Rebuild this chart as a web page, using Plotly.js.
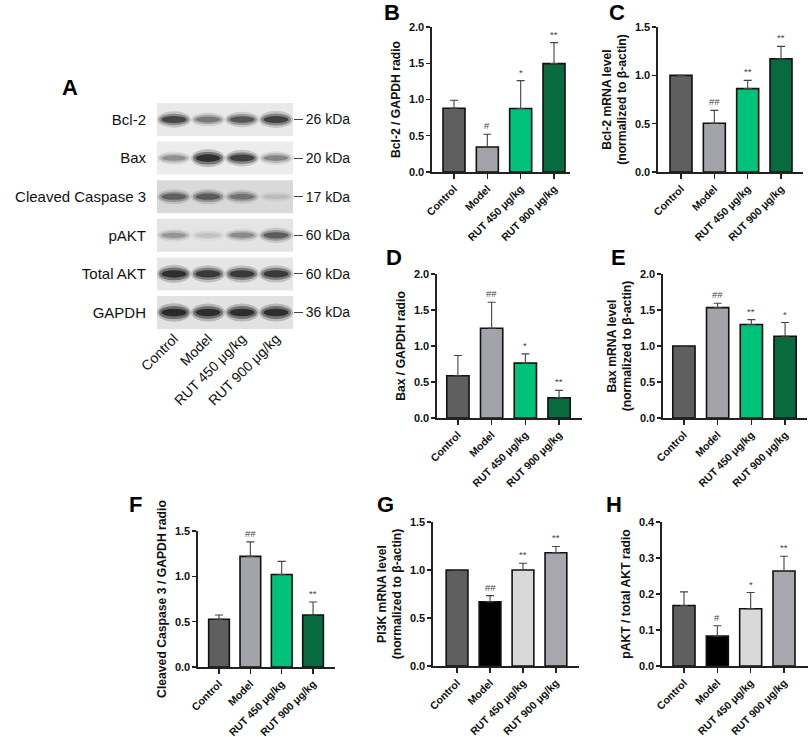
<!DOCTYPE html>
<html><head><meta charset="utf-8">
<script src="https://cdn.plot.ly/plotly-3.0.1.min.js"></script>
<style>html,body{margin:0;padding:0;background:#fff}#chart{width:809px;height:737px}</style>
</head><body><div id="chart"></div>
<script>
// ---------- data ----------
const groups = ["Control", "Model", "RUT 450 μg/kg", "RUT 900 μg/kg"];

// Western blot (panel A)
const proteins = ["Bcl-2", "Bax", "Cleaved Caspase 3", "pAKT", "Total AKT", "GAPDH"];
const kdaLabels = ["26 kDa", "20 kDa", "17 kDa", "60 kDa", "60 kDa", "36 kDa"];
const bandBcl2 = [0.75, 0.45, 0.65, 0.8];
const bandBax = [0.35, 0.95, 0.8, 0.4];
const bandCasp3 = [0.55, 0.6, 0.45, 0.1];
const bandPakt = [0.3, 0.12, 0.35, 0.6];
const bandTotalAkt = [0.95, 0.85, 0.85, 0.85];
const bandGapdh = [1.0, 0.95, 0.95, 0.95];
const membraneShade = ["#e9e9e9", "#ececec", "#d9d9d9", "#e4e4e4", "#e6e6e6", "#e2e2e2"];

// B: Bcl-2 / GAPDH
const bcl2WbMean = [0.88, 0.345, 0.875, 1.495];
const bcl2WbSd = [0.11, 0.175, 0.385, 0.29];
const bcl2WbSig = ["", "#", "*", "**"];
// C: Bcl-2 mRNA
const bcl2MrnaMean = [1.0, 0.505, 0.862, 1.172];
const bcl2MrnaSd = [null, 0.133, 0.086, 0.128];
const bcl2MrnaSig = ["", "##", "**", "**"];
// D: Bax / GAPDH
const baxWbMean = [0.587, 1.247, 0.762, 0.282];
const baxWbSd = [0.281, 0.36, 0.129, 0.101];
const baxWbSig = ["", "##", "*", "**"];
// E: Bax mRNA
const baxMrnaMean = [1.0, 1.533, 1.298, 1.136];
const baxMrnaSd = [null, 0.061, 0.069, 0.19];
const baxMrnaSig = ["", "##", "**", "*"];
// F: Cleaved Caspase 3 / GAPDH
const casp3Mean = [0.526, 1.22, 1.02, 0.574];
const casp3Sd = [0.047, 0.16, 0.145, 0.143];
const casp3Sig = ["", "##", "", "**"];
// G: PI3K mRNA
const pi3kMean = [1.0, 0.67, 1.0, 1.18];
const pi3kSd = [null, 0.063, 0.07, 0.065];
const pi3kSig = ["", "##", "**", "**"];
// H: pAKT / total AKT
const paktMean = [0.168, 0.083, 0.159, 0.264];
const paktSd = [0.038, 0.029, 0.045, 0.041];
const paktSig = ["", "#", "*", "**"];

// ---------- styles ----------
const FONT = "Liberation Sans, Arial, Helvetica, sans-serif";
const W = 809, H = 737;
const greenColors = ["#5f5f5f", "#a3a3aa", "#00c27a", "#076b3f"];
const grayColors = ["#5f5f5f", "#000000", "#d9d9d9", "#a7a7ad"];
const px = v => v / W;
const py = v => 1 - v / H;

const panels = [
  {mean: bcl2WbMean, sd: bcl2WbSd, sig: bcl2WbSig, colors: greenColors, title: "Bcl-2 / GAPDH radio",
   box: [432, 570, 27, 172], xr: [-0.66, 3.48], yr: [0, 2.0], dt: 0.5},
  {mean: bcl2MrnaMean, sd: bcl2MrnaSd, sig: bcl2MrnaSig, colors: greenColors, title: "Bcl-2 mRNA level<br>(normalized to β-actin)",
   box: [658, 803, 27, 172], xr: [-0.69, 3.66], yr: [0, 1.5], dt: 0.5},
  {mean: baxWbMean, sd: baxWbSd, sig: baxWbSig, colors: greenColors, title: "Bax / GAPDH radio",
   box: [437, 582, 274, 418], xr: [-0.62, 3.68], yr: [0, 2.0], dt: 0.5},
  {mean: baxMrnaMean, sd: baxMrnaSd, sig: baxMrnaSig, colors: greenColors, title: "Bax mRNA level<br>(normalized to β-actin)",
   box: [663, 807, 274, 418], xr: [-0.62, 3.65], yr: [0, 2.0], dt: 0.5},
  {mean: casp3Mean, sd: casp3Sd, sig: casp3Sig, colors: greenColors, title: "Cleaved Caspase 3 / GAPDH radio",
   box: [198, 335, 531, 667], xr: [-0.67, 3.7], yr: [0, 1.5], dt: 0.5},
  {mean: pi3kMean, sd: pi3kSd, sig: pi3kSig, colors: grayColors, title: "PI3K mRNA level<br>(normalized to β-actin)",
   box: [433, 579, 522, 666], xr: [-0.73, 3.7], yr: [0, 1.5], dt: 0.5},
  {mean: paktMean, sd: paktSd, sig: paktSig, colors: grayColors, title: "pAKT / total AKT radio",
   box: [662, 808, 522, 666], xr: [-0.66, 3.72], yr: [0, 0.4], dt: 0.1}
];

const data = [];
const layout = {
  width: W, height: H, margin: {l: 0, r: 0, t: 0, b: 0},
  paper_bgcolor: "#ffffff", plot_bgcolor: "rgba(0,0,0,0)",
  showlegend: false, font: {family: FONT, color: "#111"},
  annotations: [], shapes: []
};

const lanes = groups.map((g, i) => i);

panels.forEach((p, k) => {
  const n = k + 1;
  const xa = n === 1 ? "x" : "x" + n;
  const ya = n === 1 ? "y" : "y" + n;
  data.push({
    type: "bar", x: lanes, y: p.mean, xaxis: xa, yaxis: ya, width: 0.66,
    marker: {color: p.colors, line: {color: "#111", width: 1.6}},
    error_y: {type: "data", symmetric: false, array: p.sd, arrayminus: p.sd.map(() => 0),
              color: "#444", thickness: 1.1, width: 4},
    hoverinfo: "skip"
  });
  const ticks = [];
  for (let v = p.yr[0]; v <= p.yr[1] + 1e-9; v += p.dt) ticks.push(+v.toFixed(2));
  layout["xaxis" + (n === 1 ? "" : n)] = {
    domain: [px(p.box[0]), px(p.box[1])], anchor: ya, range: p.xr,
    tickmode: "array", tickvals: lanes, ticktext: groups, tickangle: -45,
    tickfont: {size: 10.6, weight: "bold", family: FONT, color: "#111"},
    showline: true, linecolor: "#222", linewidth: 1.6, ticks: "outside", ticklen: 5,
    tickwidth: 1.4, tickcolor: "#222", showgrid: false, zeroline: false, fixedrange: true
  };
  layout["yaxis" + (n === 1 ? "" : n)] = {
    domain: [py(p.box[3]), py(p.box[2])], anchor: xa, range: p.yr,
    tickmode: "array", tickvals: ticks, tickformat: ".1f",
    tickfont: {size: 11, weight: "bold", family: FONT, color: "#111"},
    showline: true, linecolor: "#222", linewidth: 1.6, ticks: "outside", ticklen: 4,
    tickwidth: 1.4, tickcolor: "#222", showgrid: false, zeroline: false, fixedrange: true,
    title: {text: p.title, standoff: 5, font: {size: 12.2, weight: "bold", family: FONT, color: "#111"}}
  };
  p.sig.forEach((s, i) => {
    if (!s) return;
    const top = p.mean[i] + (p.sd[i] || 0);
    layout.annotations.push({
      xref: xa, yref: ya, x: i, y: top, text: s, showarrow: false,
      yanchor: "bottom", yshift: 1, font: {size: 9.5, color: "#444", family: FONT}
    });
  });
});

// ---------- Panel A: western blot ----------
const bands = [bandBcl2, bandBax, bandCasp3, bandPakt, bandTotalAkt, bandGapdh];
const rowIdx = proteins.map((p, i) => i);
data.push({
  type: "bar", orientation: "h", y: rowIdx, x: rowIdx.map(() => 4), base: -0.5, width: 0.855,
  marker: {color: membraneShade, line: {width: 0}}, xaxis: "x8", yaxis: "y8", hoverinfo: "skip"
});
data.push({type: "scatter", x: [null], y: [null], xaxis: "x8", yaxis: "y9", hoverinfo: "skip"});

bands.forEach((row, r) => {
  row.forEach((v, l) => {
    const layers = [[0.5, 0.24, 0.22], [0.44, 0.17, 0.45], [0.36, 0.1, 0.75]];
    layers.forEach(([hw, hh, op]) => {
      const h = hh * (0.55 + 0.45 * v);
      layout.shapes.push({
        type: "circle", xref: "x8", yref: "y8", layer: "above",
        x0: l - hw, x1: l + hw, y0: r - h, y1: r + h,
        fillcolor: "rgba(20,20,20," + (op * v).toFixed(3) + ")", line: {width: 0}
      });
    });
  });
});

const blotTop = 100.2, blotBottom = 331.8;
layout.xaxis8 = {
  domain: [px(157), px(293)], anchor: "y8", range: [-0.5, 3.5],
  tickmode: "array", tickvals: lanes, ticktext: groups, tickangle: -45, ticklabelstandoff: -5,
  tickfont: {size: 14, family: FONT, color: "#111"}, ticks: "", showline: false,
  showgrid: false, zeroline: false, fixedrange: true
};
layout.yaxis8 = {
  domain: [py(blotBottom), py(blotTop)], anchor: "x8", range: [5.5, -0.5],
  tickmode: "array", tickvals: rowIdx, ticktext: proteins, ticklabelstandoff: 10,
  tickfont: {size: 15, family: FONT, color: "#111"}, ticks: "", showline: false,
  showgrid: false, zeroline: false, fixedrange: true
};
layout.yaxis9 = {
  overlaying: "y8", side: "right", anchor: "x8", range: [5.5, -0.5],
  tickmode: "array", tickvals: rowIdx, ticktext: kdaLabels,
  tickfont: {size: 14, family: FONT, color: "#111"}, ticks: "outside", ticklen: 9,
  tickwidth: 1, tickcolor: "#444", showline: false, showgrid: false, zeroline: false, fixedrange: true
};

// panel letters
const letters = [["A", 70, 87], ["B", 392, 12], ["C", 617, 12], ["D", 394, 258], ["E", 618, 258],
                 ["F", 135, 504], ["G", 385, 504], ["H", 614, 504]];
letters.forEach(([t, x, y]) => layout.annotations.push({
  xref: "paper", yref: "paper", x: px(x), y: py(y), text: t, showarrow: false,
  xanchor: "center", yanchor: "middle", font: {size: 22, weight: "bold", family: FONT, color: "#000"}
}));

Plotly.newPlot("chart", data, layout, {displayModeBar: false, staticPlot: true});
</script>
</body></html>
